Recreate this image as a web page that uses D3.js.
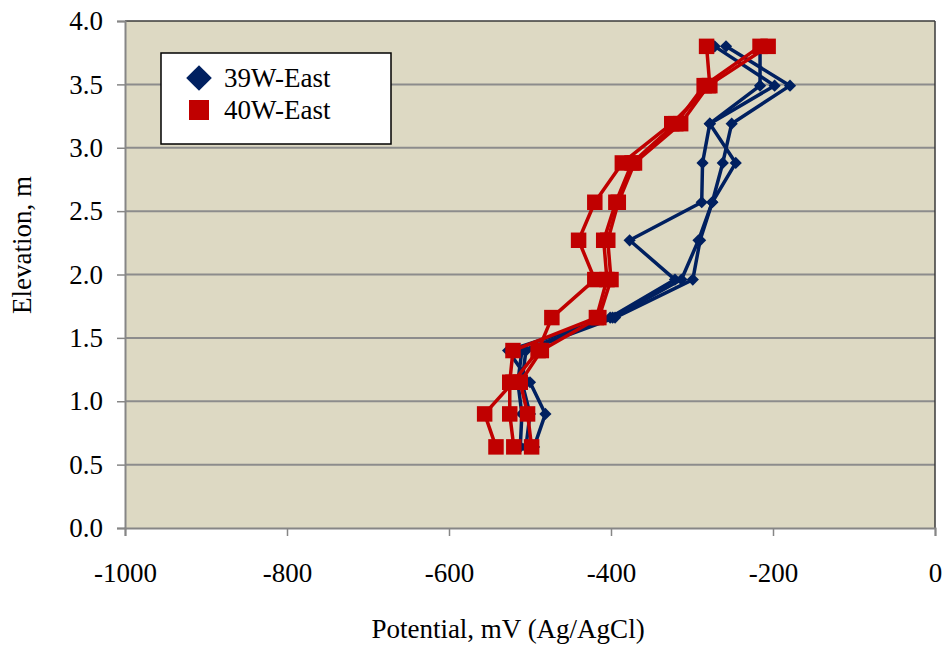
<!DOCTYPE html>
<html>
<head>
<meta charset="utf-8">
<script src="https://cdn.jsdelivr.net/npm/d3@7"></script>
<style>
  html, body { margin: 0; padding: 0; background: #ffffff; }
  svg { display: block; }
  text { font-family: "Liberation Serif", "Times New Roman", serif; fill: #000; }
</style>
</head>
<body>
<svg id="chart" width="946" height="645"></svg>
<script>
// Elevation of each reading, m (shared by all profiles)
const elevations = [3.80, 3.49, 3.19, 2.88, 2.57, 2.27, 1.96, 1.66, 1.40, 1.15, 0.90, 0.64];

// 39W-East: three potential profiles, mV (Ag/AgCl)
const east39A = [-216, -216, -278, -287, -288, -377, -321, -401, -527, -500, -481, -495];
const east39B = [-258, -179, -251, -262, -275, -290, -299, -395, -505, -510, -500, -505];
const east39C = [-272, -198, -278, -246, -275, -292, -313, -398, -510, -515, -510, -512];

// 40W-East: three potential profiles, mV (Ag/AgCl)
const east40A = [-282, -278, -325, -386, -420, -440, -420, -473, -490, -521, -556, -542];
const east40B = [-216, -285, -320, -374, -394, -409, -405, -418, -521, -525, -525, -520];
const east40C = [-206, -280, -314, -371, -391, -404, -400, -415, -486, -512, -503, -498];

const seriesNames = ["39W-East", "40W-East"];
const xTicks = [-1000, -800, -600, -400, -200, 0];
const yTicks = [0, 0.5, 1, 1.5, 2, 2.5, 3, 3.5, 4];

const colors = { "39W-East": "#002060", "40W-East": "#C00000" };

const series = [
  { name: "39W-East", profiles: [east39A, east39B, east39C] },
  { name: "40W-East", profiles: [east40A, east40B, east40C] }
];

const svg = d3.select("#chart");
const plot = { left: 125, right: 935, top: 21, bottom: 528 };

const x = d3.scaleLinear().domain([-1000, 0]).range([plot.left, plot.right]);
const y = d3.scaleLinear().domain([0, 4]).range([plot.bottom, plot.top]);

// plot background
svg.append("rect")
  .attr("x", plot.left).attr("y", plot.top)
  .attr("width", plot.right - plot.left).attr("height", plot.bottom - plot.top)
  .attr("fill", "#DDD9C3");

// horizontal gridlines
svg.append("g").selectAll("line")
  .data(yTicks.filter(t => t > 0 && t < 4))
  .join("line")
  .attr("x1", plot.left).attr("x2", plot.right)
  .attr("y1", d => y(d)).attr("y2", d => y(d))
  .attr("stroke", "#8C8C8C").attr("stroke-width", 2);

// frame
svg.append("line")
  .attr("x1", plot.left).attr("x2", plot.right)
  .attr("y1", plot.top).attr("y2", plot.top)
  .attr("stroke", "#3a3a3a").attr("stroke-width", 1.5);
svg.append("line")
  .attr("x1", plot.right).attr("x2", plot.right)
  .attr("y1", plot.top).attr("y2", plot.bottom)
  .attr("stroke", "#3a3a3a").attr("stroke-width", 1.5);

// axes
const xAxis = d3.axisBottom(x).tickValues(xTicks).tickSize(8).tickPadding(27)
  .tickFormat(d => String(d));
const yAxis = d3.axisLeft(y).tickValues(yTicks).tickSize(8).tickPadding(14)
  .tickFormat(d3.format(".1f"));

const gx = svg.append("g").attr("transform", `translate(0,${plot.bottom})`).call(xAxis);
const gy = svg.append("g").attr("transform", `translate(${plot.left},0)`).call(yAxis);

[gx, gy].forEach(g => {
  g.select(".domain").attr("stroke", "#868686").attr("stroke-width", 2);
  g.selectAll(".tick line").attr("stroke", "#868686").attr("stroke-width", 1.5);
  g.selectAll(".tick text")
    .attr("font-family", "'Liberation Serif', 'Times New Roman', serif")
    .attr("font-size", 27).attr("fill", "#000");
});

// axis titles
svg.append("text")
  .attr("x", 508).attr("y", 638)
  .attr("text-anchor", "middle").attr("font-size", 27)
  .text("Potential, mV (Ag/AgCl)");
svg.append("text")
  .attr("transform", "translate(31,245) rotate(-90)")
  .attr("text-anchor", "middle").attr("font-size", 27)
  .text("Elevation, m");

// marker shapes
const diamond = d3.symbol().type(d3.symbolDiamond2).size(95);
const square = d3.symbol().type(d3.symbolSquare).size(240);

const line = d3.line()
  .x(d => x(d.v))
  .y(d => y(d.e));

series.forEach(s => {
  const g = svg.append("g");
  const col = colors[s.name];
  s.profiles.forEach(p => {
    const pts = p.map((v, i) => ({ v, e: elevations[i] }));
    g.append("path")
      .datum(pts)
      .attr("d", line)
      .attr("fill", "none")
      .attr("stroke", col)
      .attr("stroke-width", 3.5)
      .attr("stroke-linejoin", "round");
    g.selectAll(null)
      .data(pts)
      .join("path")
      .attr("transform", d => `translate(${x(d.v)},${y(d.e)})`)
      .attr("d", s.name === "39W-East" ? diamond : square)
      .attr("fill", col);
  });
});

// legend
const legend = svg.append("g");
legend.append("rect")
  .attr("x", 161).attr("y", 53).attr("width", 230).attr("height", 91)
  .attr("fill", "#fff").attr("stroke", "#000").attr("stroke-width", 1.5);
const legendRows = [
  { name: seriesNames[0], cy: 78 },
  { name: seriesNames[1], cy: 110 }
];
legendRows.forEach(r => {
  const mark = r.name === "39W-East"
    ? d3.symbol().type(d3.symbolDiamond2).size(420)
    : d3.symbol().type(d3.symbolSquare).size(400);
  legend.append("path")
    .attr("transform", `translate(199,${r.cy})`)
    .attr("d", mark)
    .attr("fill", colors[r.name]);
  legend.append("text")
    .attr("x", 224).attr("y", r.cy + 9)
    .attr("font-size", 27)
    .text(r.name);
});
</script>
</body>
</html>
